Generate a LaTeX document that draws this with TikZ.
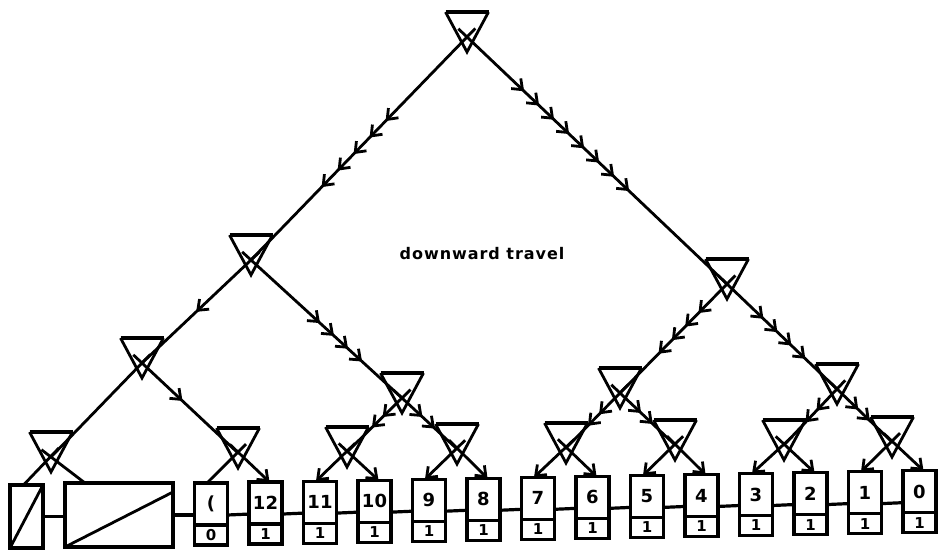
\documentclass[tikz,border=0pt]{standalone}
\usepackage{fontspec}
\setmainfont{DejaVu Sans}
\usetikzlibrary{calc, positioning, arrows.meta, decorations.markings}

\begin{document}
\begin{tikzpicture}[
  x=1pt, y=-1pt,
  tri/.style={line width=2.8pt, line join=miter},
  trtop/.style={line width=4pt},
  trail/.style={line width=2.8pt},
  >={Straight Barb[length=9pt, width=14pt]},
  flow/.style n args={3}{postaction={decorate},
     decoration={markings, mark=between positions #1 and #2 step #3 with {\arrow{>}}}},
  cell/.style={draw, line width=3.2pt, minimum width=33pt, minimum height=42pt,
               inner sep=0pt, outer sep=0pt,
               font=\fontsize{18}{18}\selectfont\bfseries},
  bit/.style={draw, line width=3.2pt, minimum width=33pt, minimum height=20pt,
              inner sep=0pt, outer sep=0pt,
              font=\fontsize{15}{15}\selectfont\bfseries},
  link/.style={line width=3.2pt},
  lbl/.style={font=\fontsize{16}{16}\selectfont\bfseries\addfontfeatures{LetterSpace=6}}
]
\useasboundingbox (0,0) rectangle (938,552);

% switching triangles
\foreach \n/\x/\y in {root/467/12, l/251/235, r/727/259,
                      ll/142/338, lr/402/373, rl/620/368, rr/837/364,
                      lll/51/432, llr/238/428, lrl/347/427, lrr/457/424,
                      rll/566/423, rlr/675/420, rrl/784/420, rrr/892/417} {
  \coordinate (\n) at (\x,\y+25);
  \draw[tri] (\x-21.5,\y) -- (\x,\y+40) -- (\x+21.5,\y);
  \draw[trtop] (\x-21.5,\y) -- (\x+21.5,\y);
}

% leaves
\node[cell, minimum height=63pt] (sb) at (26.5,516.5) {};
\draw[trail] (sb.south west) -- (sb.north east);
\node[cell, minimum width=108pt, minimum height=64pt] (bb) at (119,515) {};
\draw[trail] (bb.south west) -- ([yshift=-9pt]bb.north east);

\node[cell] (lp) at (211,504) {(};
\node[bit, below=0pt of lp] (bp) {0};
\foreach \v [count=\i] in {12,11,...,0} {
  \node[cell] (c\v) at ({211+54.5*\i},{504-0.95*\i}) {\v};
  \node[bit, below=0pt of c\v] (b\v) {1};
}

\draw[link] (sb.east) -- (sb.east -| bb.west);
\draw[link] (bb.east) -- (bb.east -| lp.west);
\draw[link] ([yshift=-11pt]lp.east) -- ([yshift=-11pt]c12.west);
\foreach \v [evaluate=\v as \w using int(\v-1)] in {12,11,...,1}
  \draw[link] ([yshift=-11pt]c\v.east) -- ([yshift=-11pt]c\w.west);

% tree
\draw[trail, flow={0.40}{0.70}{23pt}] ($(root)!-12pt!(l)$) -- (l);
\draw[trail, flow={0.245}{0.65}{20.7pt}] ($(root)!-12pt!(r)$) -- (r);
\draw[trail, flow={0.54}{0.56}{50pt}] ($(l)!-12pt!(ll)$) -- (ll);
\draw[trail, flow={0.487}{0.77}{19pt}] ($(l)!-12pt!(lr)$) -- (lr);
\draw[trail, flow={0.32}{0.68}{19pt}] ($(r)!-12pt!(rl)$) -- (rl);
\draw[trail, flow={0.38}{0.74}{19.3pt}] ($(r)!-12pt!(rr)$) -- (rr);
\draw[trail] ($(ll)!-12pt!(lll)$) -- (lll);
\draw[trail, flow={0.47}{0.49}{50pt}] ($(ll)!-12pt!(llr)$) -- (llr);
\draw[trail, flow={0.44}{0.65}{15pt}] ($(lr)!-12pt!(lrl)$) -- (lrl);
\draw[trail, flow={0.46}{0.70}{17pt}] ($(lr)!-12pt!(lrr)$) -- (lrr);
\foreach \p/\a/\b in {rl/rll/rlr, rr/rrl/rrr} {
  \draw[trail, flow={0.47}{0.70}{16pt}] ($(\p)!-12pt!(\a)$) -- (\a);
  \draw[trail, flow={0.47}{0.70}{16pt}] ($(\p)!-12pt!(\b)$) -- (\b);
}

\draw[trail] ($(lll)!-12pt!(sb.north)$) -- ([xshift=-3pt]sb.north);
\draw[trail] ($(lll)!-12pt!([xshift=20pt]bb.north west)$) -- ([xshift=20pt]bb.north west);
\draw[trail] ($(llr)!-12pt!(lp.north)$) -- ([xshift=-4pt]lp.north);
\draw[trail, ->] ($(llr)!-12pt!(c12.north)$) -- ([xshift=4pt]c12.north);
\foreach \p/\a/\b in {lrl/11/10, lrr/9/8, rll/7/6, rlr/5/4, rrl/3/2, rrr/1/0} {
  \draw[trail, ->] ($(\p)!-12pt!(c\a.north)$) -- ([xshift=-4pt]c\a.north);
  \draw[trail, ->] ($(\p)!-12pt!(c\b.north)$) -- ([xshift=4pt]c\b.north);
}

\node[lbl] (cap) at (482,254) {downward travel};
\end{tikzpicture}
\end{document}
